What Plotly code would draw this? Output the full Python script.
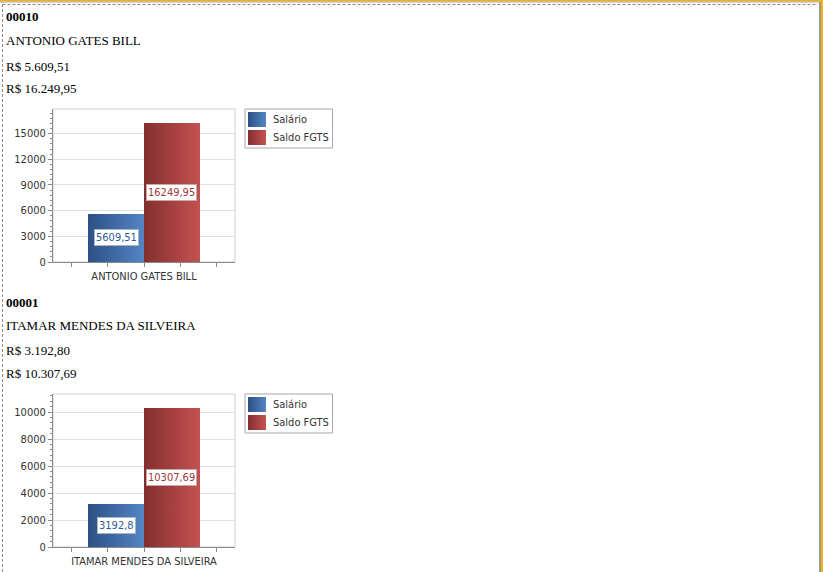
import base64
import plotly.graph_objects as go

# ---------------- data ----------------
codes = ["00010", "00001"]
names = ["ANTONIO GATES BILL", "ITAMAR MENDES DA SILVEIRA"]
salario = [5609.51, 3192.80]
saldo_fgts = [16249.95, 10307.69]
salario_txt = ["R$ 5.609,51", "R$ 3.192,80"]
fgts_txt = ["R$ 16.249,95", "R$ 10.307,69"]
label_sal = ["5609,51", "3192,8"]
label_fgts = ["16249,95", "10307,69"]
series_names = ["Salário", "Saldo FGTS"]
y_dticks = [3000, 2000]

W, H = 823, 572
def px(x):
    return x / W
def py(y):
    return 1 - y / H

BLUE = "#3f6aa6"
RED = "#a63f3f"
BLUE_G = ("#2c5185", "#5485c4")
RED_G = ("#842e2e", "#c45252")

def grad_uri(c0, c1):
    svg = ('<svg xmlns="http://www.w3.org/2000/svg" width="100" height="100" viewBox="0 0 100 100" '
           'preserveAspectRatio="none"><defs><linearGradient id="g" x1="0" x2="1" y1="0" y2="0">'
           f'<stop offset="0" stop-color="{c0}"/><stop offset="1" stop-color="{c1}"/>'
           '</linearGradient></defs><rect width="100" height="100" fill="url(#g)"/></svg>')
    return "data:image/svg+xml;base64," + base64.b64encode(svg.encode()).decode()

fig = go.Figure()

text_rows = [(17, 41, 66, 88), (302, 325, 350, 373)]
plot_boxes = [(53, 109, 235, 262), (53, 394, 235, 547)]
legend_tops = [109, 394]

bargap = 0.385
groupw = 1 - bargap
font_ui = "Tahoma, 'DejaVu Sans Condensed', 'Liberation Sans', sans-serif"

annotations = []
shapes = []
images = []

for i in range(2):
    xa = "x" if i == 0 else f"x{i+1}"
    ya = "y" if i == 0 else f"y{i+1}"
    xk = "xaxis" if i == 0 else f"xaxis{i+1}"
    yk = "yaxis" if i == 0 else f"yaxis{i+1}"
    x0, y0, x1, y1 = plot_boxes[i]
    ymax = 1.1 * max(salario[i], saldo_fgts[i])

    fig.add_trace(go.Bar(x=[0], y=[salario[i]], name=series_names[0], marker=dict(color=BLUE, line=dict(width=0)),
                         xaxis=xa, yaxis=ya, showlegend=False, hoverinfo="skip"))
    fig.add_trace(go.Bar(x=[0], y=[saldo_fgts[i]], name=series_names[1], marker=dict(color=RED, line=dict(width=0)),
                         xaxis=xa, yaxis=ya, showlegend=False, hoverinfo="skip"))

    fig.update_layout(**{
        xk: dict(domain=[px(x0), px(x1)], anchor=ya, range=[-0.5, 0.5], automargin=False,
                 tickmode="array", tickvals=[0], ticktext=[names[i]],
                 ticks="outside", ticklen=4, tickcolor="#8a8a8a",
                 minor=dict(tickmode="linear", tick0=0, dtick=0.2, ticks="outside", ticklen=4, tickcolor="#8a8a8a"),
                 showline=True, linecolor="#8a8a8a", linewidth=1, showgrid=False, zeroline=False,
                 tickfont=dict(family=font_ui, size=11, color="#333333"), fixedrange=True),
        yk: dict(domain=[py(y1), py(y0)], anchor=xa, range=[0, ymax], automargin=False,
                 tickmode="linear", tick0=0, dtick=y_dticks[i], tickformat="d",
                 ticks="outside", ticklen=4, tickcolor="#8a8a8a",
                 minor=dict(dtick=y_dticks[i] / 5, ticks="outside", ticklen=2, tickcolor="#8a8a8a", showgrid=False),
                 showline=True, linecolor="#8a8a8a", linewidth=1,
                 showgrid=True, gridcolor="#e0e0e0", gridwidth=1, zeroline=False,
                 tickfont=dict(family=font_ui, size=11, color="#333333"), fixedrange=True),
    })

    shapes.append(dict(type="rect", xref=f"{xa} domain", yref=f"{ya} domain", x0=0, x1=1, y0=0, y1=1,
                       line=dict(color="#cfcfcf", width=1), layer="below"))

    images.append(dict(source=grad_uri(*BLUE_G), xref=xa, yref=ya, x=-groupw / 2, y=salario[i],
                       sizex=groupw / 2, sizey=salario[i], sizing="stretch", xanchor="left", yanchor="top",
                       layer="above"))
    images.append(dict(source=grad_uri(*RED_G), xref=xa, yref=ya, x=0, y=saldo_fgts[i],
                       sizex=groupw / 2, sizey=saldo_fgts[i], sizing="stretch", xanchor="left", yanchor="top",
                       layer="above"))

    annotations.append(dict(x=-groupw / 4, y=salario[i] / 2, xref=xa, yref=ya, text=label_sal[i], showarrow=False,
                            font=dict(family=font_ui, size=11, color="#2d5a96"), bgcolor="white",
                            bordercolor="#a9b4c4", borderwidth=1, borderpad=1))
    annotations.append(dict(x=groupw / 4, y=saldo_fgts[i] / 2, xref=xa, yref=ya, text=label_fgts[i], showarrow=False,
                            font=dict(family=font_ui, size=11, color="#a03838"), bgcolor="white",
                            bordercolor="#c4a9a9", borderwidth=1, borderpad=1))

    # legend (drawn)
    lt = legend_tops[i]
    shapes.append(dict(type="rect", xref="paper", yref="paper", x0=px(245), x1=px(332.5), y0=py(lt + 39), y1=py(lt),
                       line=dict(color="#a8a8a8", width=1), fillcolor="white", layer="below"))
    for k, (g, name) in enumerate([(BLUE_G, series_names[0]), (RED_G, series_names[1])]):
        sy = lt + 3 + k * 18
        images.append(dict(source=grad_uri(g[0], g[1]), xref="paper", yref="paper", x=px(248), y=py(sy),
                           sizex=18 / W, sizey=15 / H, sizing="stretch", xanchor="left", yanchor="top",
                           layer="above"))
        annotations.append(dict(x=px(271), y=py(sy + 7.5), xref="paper", yref="paper", xanchor="left",
                                yanchor="middle", text=name, showarrow=False,
                                font=dict(family=font_ui, size=11, color="#333333")))

    r = text_rows[i]
    for txt, yy, bold in [(codes[i], r[0], True), (names[i], r[1], False),
                          (salario_txt[i], r[2], False), (fgts_txt[i], r[3], False)]:
        annotations.append(dict(x=px(4), y=py(yy), xref="paper", yref="paper", xanchor="left", yanchor="middle",
                                text=f"<b>{txt}</b>" if bold else txt, showarrow=False,
                                font=dict(family="'Liberation Serif', 'Times New Roman', serif", size=13, color="black")))

shapes += [
    dict(type="rect", xref="paper", yref="paper", x0=0, x1=1, y0=py(1.5), y1=1,
         fillcolor="#f5b400", line=dict(width=0)),
    dict(type="rect", xref="paper", yref="paper", x0=px(820.5), x1=1, y0=0, y1=1,
         fillcolor="#f5b400", line=dict(width=0)),
    dict(type="line", xref="paper", yref="paper", x0=0, x1=px(820.5), y0=py(2), y1=py(2),
         line=dict(color="#9aa0a8", width=1)),
    dict(type="line", xref="paper", yref="paper", x0=px(820), x1=px(820), y0=0, y1=py(2),
         line=dict(color="#7a8088", width=1.5)),
    dict(type="line", xref="paper", yref="paper", x0=px(2.5), x1=px(818), y0=py(4.5), y1=py(4.5),
         line=dict(color="#8c8c8c", width=1, dash="3px,2px")),
    dict(type="line", xref="paper", yref="paper", x0=px(2.5), x1=px(2.5), y0=0, y1=py(4.5),
         line=dict(color="#8c8c8c", width=1, dash="3px,2px")),
]

fig.update_layout(
    width=W, height=H, margin=dict(l=0, r=0, t=0, b=0, autoexpand=False),
    paper_bgcolor="white", plot_bgcolor="white",
    barmode="group", bargap=bargap, bargroupgap=0,
    shapes=shapes, annotations=annotations, images=images,
    showlegend=False,
)

fig.write_html("out.html", config={"displayModeBar": False})
